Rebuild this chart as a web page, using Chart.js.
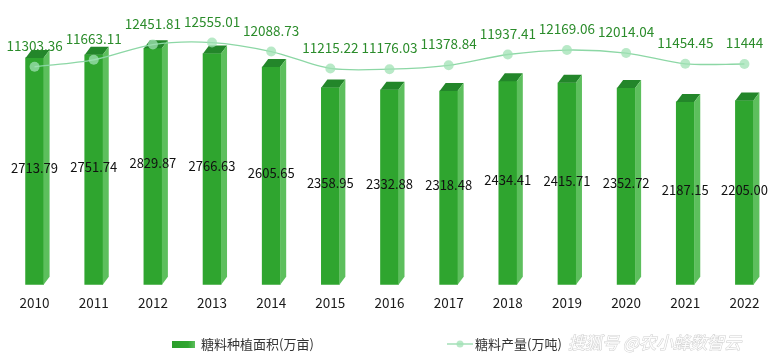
<!DOCTYPE html>
<html><head><meta charset="utf-8">
<script src="https://cdn.jsdelivr.net/npm/chart.js@4/dist/chart.umd.min.js"></script>
<style>html,body{margin:0;padding:0;background:#fff;}#wrap{width:779px;height:358px;position:relative;}</style>
</head><body><div id="wrap"><canvas id="c" width="779" height="358"></canvas></div>
<script>
const years = ['2010','2011','2012','2013','2014','2015','2016','2017','2018','2019','2020','2021','2022'];
const plantingArea = [2713.79, 2751.74, 2829.87, 2766.63, 2605.65, 2358.95, 2332.88, 2318.48, 2434.41, 2415.71, 2352.72, 2187.15, 2205.00];
const sugarOutput = [11303.36, 11663.11, 12451.81, 12555.01, 12088.73, 11215.22, 11176.03, 11378.84, 11937.41, 12169.06, 12014.04, 11454.45, 11444];
const seriesNames = ['糖料种植面积(万亩)', '糖料产量(万吨)'];
const watermarkText = '搜狐号 @农小蜂数智云';

const FONT = "'Noto Sans CJK SC', 'Noto Sans', sans-serif";
const FRONT = '#2fa52f', TOP = '#23862a', SIDE = '#5dbf5d';
const LINE = 'rgba(140,215,165,1)', DOT = 'rgba(160,225,180,0.75)';

const bar3d = {
  id: 'bar3d',
  afterDatasetDraw(chart, args) {
    if (args.index !== 0) return;
    const ctx = chart.ctx, dx = 6, dy = 8;
    ctx.save();
    args.meta.data.forEach(bar => {
      const p = bar.getProps(['x','y','base','width'], true);
      const l = p.x - p.width/2, r = p.x + p.width/2;
      ctx.fillStyle = TOP;
      ctx.beginPath(); ctx.moveTo(l, p.y); ctx.lineTo(l+dx, p.y-dy); ctx.lineTo(r+dx, p.y-dy); ctx.lineTo(r, p.y); ctx.closePath(); ctx.fill();
      ctx.fillStyle = SIDE;
      ctx.beginPath(); ctx.moveTo(r, p.y); ctx.lineTo(r+dx, p.y-dy); ctx.lineTo(r+dx, p.base-dy); ctx.lineTo(r, p.base); ctx.closePath(); ctx.fill();
    });
    ctx.restore();
  }
};

const labelsPlugin = {
  id: 'valueLabels',
  afterDatasetsDraw(chart) {
    const ctx = chart.ctx;
    ctx.save();
    ctx.textAlign = 'center'; ctx.textBaseline = 'middle';
    const m0 = chart.getDatasetMeta(0);
    ctx.font = '13px ' + FONT; ctx.fillStyle = '#111';
    m0.data.forEach((b, i) => {
      const p = b.getProps(['x','y','base'], true);
      ctx.fillText(plantingArea[i].toFixed(2), p.x, (p.y + p.base)/2 - 3);
    });
    const m1 = chart.getDatasetMeta(1);
    ctx.font = '13.5px ' + FONT; ctx.fillStyle = '#2b8c2b';
    m1.data.forEach((pt, i) => {
      ctx.fillText(String(sugarOutput[i]), pt.x, pt.y - 21);
    });
    ctx.restore();
  },
  afterDraw(chart) {
    const ctx = chart.ctx;
    ctx.save();
    ctx.textBaseline = 'middle'; ctx.textAlign = 'left';
    const g = ctx.createLinearGradient(172, 0, 195, 0);
    g.addColorStop(0, '#2a9e2a'); g.addColorStop(0.7, '#2fa52f'); g.addColorStop(1, '#5dbf5d');
    ctx.fillStyle = g; ctx.fillRect(172, 341, 23, 7);
    ctx.font = '13px ' + FONT; ctx.fillStyle = '#333';
    ctx.fillText(chart.data.datasets[0].label, 201, 344.5);
    ctx.strokeStyle = LINE; ctx.lineWidth = 1.2;
    ctx.beginPath(); ctx.moveTo(447, 344); ctx.lineTo(473, 344); ctx.stroke();
    ctx.fillStyle = DOT; ctx.beginPath(); ctx.arc(460, 344, 3.5, 0, Math.PI*2); ctx.fill();
    ctx.fillStyle = '#333';
    ctx.fillText(chart.data.datasets[1].label, 475, 344.5);
    ctx.font = 'italic 17px ' + FONT;
    ctx.lineWidth = 1; ctx.strokeStyle = 'rgba(165,165,165,0.55)';
    ctx.fillStyle = 'rgba(255,255,255,0.95)';
    ctx.strokeText(watermarkText, 568, 343);
    ctx.fillText(watermarkText, 568, 343);
    ctx.restore();
  }
};

new Chart(document.getElementById('c'), {
  data: {
    labels: years,
    datasets: [
      { type: 'bar', label: seriesNames[0], data: plantingArea, yAxisID: 'y', backgroundColor: FRONT, barThickness: 18, order: 1 },
      { type: 'line', label: seriesNames[1], data: sugarOutput, yAxisID: 'y1', borderColor: LINE, borderWidth: 1.3, tension: 0.3,
        pointRadius: 5, pointBackgroundColor: DOT, pointBorderWidth: 0, pointBorderColor: 'rgba(0,0,0,0)', order: 0 }
    ]
  },
  options: {
    responsive: false, animation: false, devicePixelRatio: 1,
    layout: { padding: { top: 34, left: 4, right: 5, bottom: 37 } },
    plugins: { legend: { display: false }, tooltip: { enabled: false } },
    scales: {
      x: { offset: true, grid: { display: false, drawTicks: false }, border: { display: false },
           ticks: { color: '#1a1a1a', padding: 10, font: { size: 13.5, family: FONT } } },
      y: { display: false, min: 0, max: 3000 },
      y1: { display: false, min: 0, max: 13000, position: 'right' }
    }
  },
  plugins: [bar3d, labelsPlugin]
});
</script></body></html>
